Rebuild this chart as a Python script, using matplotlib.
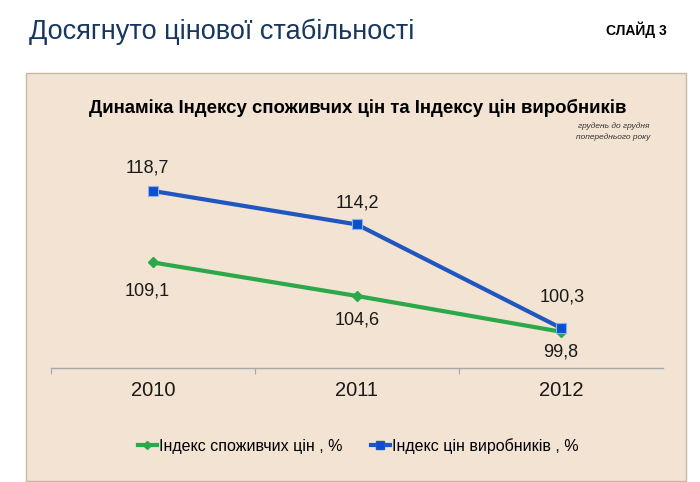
import matplotlib
matplotlib.use('Agg')
import matplotlib.pyplot as plt
from matplotlib.patches import Rectangle
from matplotlib.lines import Line2D

# data
years = ['2010', '2011', '2012']
cpi = [109.1, 104.6, 99.8]
ppi = [118.7, 114.2, 100.3]
cpi_labels = ['109,1', '104,6', '99,8']
ppi_labels = ['118,7', '114,2', '100,3']

# label offsets in pixels (dx, dy)
ppi_off = [(-6, 23), (0, 21), (1, 31)]
cpi_off = [(-6, -29), (0, -24), (0, -20)]

W, H = 700, 482
fig = plt.figure(figsize=(W / 100, H / 100), dpi=100)
fig.patch.set_facecolor('white')
plt.rcParams['font.family'] = ['Liberation Sans', 'DejaVu Sans']

def fx(px):
    return px / W

def fy(py):
    return 1 - py / H

# beige panel
panel = Rectangle((fx(26), fy(481)), fx(686) - fx(26), fy(73) - fy(481),
                  transform=fig.transFigure, facecolor='#F2E3D3',
                  edgecolor='#C9B8A4', linewidth=1.0, zorder=0)
fig.add_artist(panel)

fig.text(fx(29), fy(32), 'Досягнуто цінової стабільності', fontsize=19.5,
         color='#17375E', va='center', ha='left')
fig.text(fx(667), fy(30), 'СЛАЙД 3', fontsize=10, fontweight='bold',
         color='black', va='center', ha='right')
fig.text(fx(358), fy(108), 'Динаміка Індексу споживчих цін та Індексу цін виробників',
         fontsize=13.4, fontweight='bold', color='black', va='center', ha='center')
fig.text(fx(650), fy(126), 'грудень до грудня', fontsize=6, style='italic',
         color='#333333', va='center', ha='right')
fig.text(fx(650), fy(137), 'попереднього року', fontsize=6, style='italic',
         color='#333333', va='center', ha='right')

# axes area: x from 51 to 663 px, y from 150 to 368 px
ax = fig.add_axes([fx(51), fy(368), fx(663) - fx(51), fy(150) - fy(368)])
ax.set_facecolor('none')
x = list(range(len(years)))

ax.plot(x, cpi, color='#2AA84A', linewidth=3, marker='D', markersize=5,
        markerfacecolor='#2AA84A', markeredgecolor='#2AA84A', zorder=3)
ax.plot(x, ppi, color='#1F56C0', linewidth=3, marker='s', markersize=7,
        markerfacecolor='#0A4FCC', markeredgecolor='#8AB0F0', markeredgewidth=0.8, zorder=4)

top = 118.7 + (191 - 150) / 7.45
ax.set_xlim(-0.5, 2.5)
ax.set_ylim(94.93, top)

for i in x:
    ax.annotate(ppi_labels[i], (i, ppi[i]), xytext=ppi_off[i], textcoords='offset pixels',
                ha='center', va='center', fontsize=13, color='#1a1a1a')
    ax.annotate(cpi_labels[i], (i, cpi[i]), xytext=cpi_off[i], textcoords='offset pixels',
                ha='center', va='center', fontsize=13, color='#1a1a1a')

for s in ['top', 'right', 'left']:
    ax.spines[s].set_visible(False)
ax.spines['bottom'].set_color('#A8A8A8')
ax.spines['bottom'].set_linewidth(1.0)
ax.set_yticks([])
ax.set_xticks([-0.5, 0.5, 1.5])
ax.set_xticklabels([])
ax.tick_params(axis='x', direction='out', length=4, color='#A8A8A8')
ax.set_xticks(x, minor=True)
ax.set_xticklabels(years, minor=True)
ax.tick_params(axis='x', which='minor', length=0, labelsize=14.5, pad=9, labelcolor='#1a1a1a')

# legend
handles = [
    Line2D([], [], color='#2AA84A', linewidth=3, marker='D', markersize=4),
    Line2D([], [], color='#1F56C0', linewidth=3, marker='s', markersize=6,
           markerfacecolor='#0A4FCC'),
]
fig.legend(handles, ['Індекс споживчих цін , %', 'Індекс цін виробників , %'],
           loc='center', bbox_to_anchor=(fx(358), fy(446)), ncol=2, frameon=False,
           fontsize=11.5, handlelength=1.2, handletextpad=0.1, columnspacing=1.8)

fig.savefig('out.png', dpi=100, facecolor='white')
